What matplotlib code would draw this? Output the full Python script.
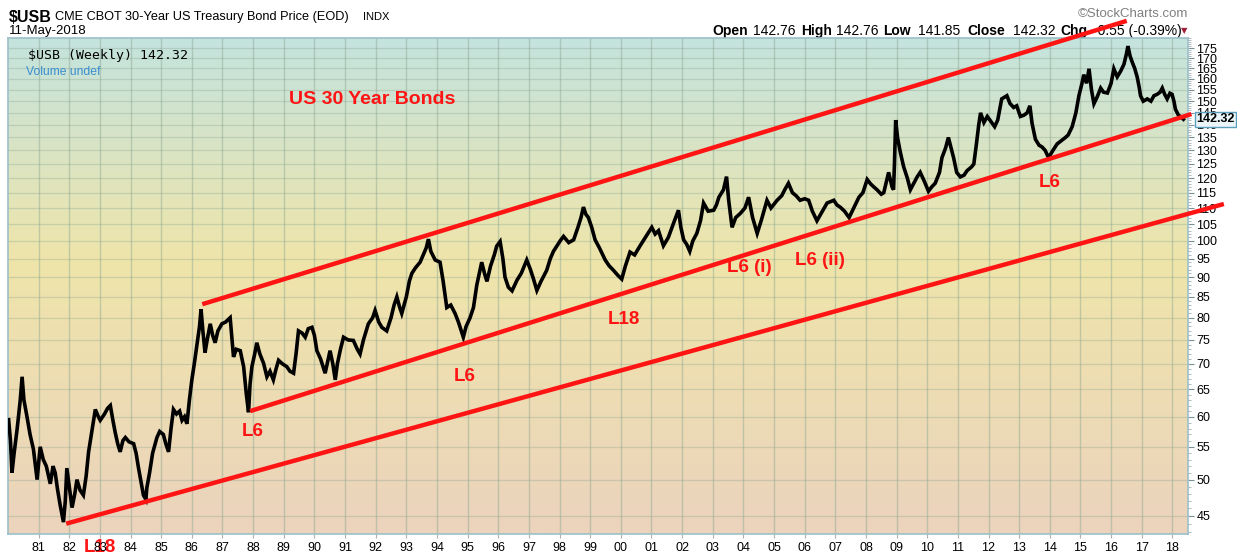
import numpy as np
import matplotlib
matplotlib.use('Agg')
import matplotlib.pyplot as plt
import matplotlib.transforms as mtransforms
from matplotlib.ticker import FixedLocator, NullFormatter

plt.rcParams['font.family'] = ['Liberation Sans', 'DejaVu Sans']

# Weekly $USB closes (decimal year, price)
week_dates = [
    1980.02, 1980.08, 1980.13, 1980.20, 1980.30, 1980.40, 1980.46, 1980.52, 1980.62, 1980.72,
    1980.83, 1980.95, 1981.05, 1981.15, 1981.25, 1981.38, 1981.47, 1981.54, 1981.62, 1981.70,
    1981.81, 1981.87, 1981.92, 1982.00, 1982.09, 1982.18, 1982.25, 1982.35, 1982.46, 1982.55,
    1982.63, 1982.72, 1982.85, 1982.95, 1983.01, 1983.15, 1983.25, 1983.34, 1983.42, 1983.50,
    1983.58, 1983.66, 1983.75, 1983.83, 1983.95, 1984.10, 1984.18, 1984.26, 1984.35, 1984.42,
    1984.50, 1984.53, 1984.62, 1984.72, 1984.86, 1984.95, 1985.07, 1985.15, 1985.24, 1985.32,
    1985.40, 1985.50, 1985.60, 1985.68, 1985.76, 1985.84, 1985.92, 1986.00, 1986.08, 1986.16,
    1986.25, 1986.30, 1986.36, 1986.43, 1986.50, 1986.60, 1986.68, 1986.76, 1986.85, 1986.98,
    1987.10, 1987.25, 1987.30, 1987.36, 1987.45, 1987.58, 1987.69, 1987.78, 1987.85, 1987.90,
    1987.96, 1988.05, 1988.12, 1988.22, 1988.34, 1988.45, 1988.55, 1988.66, 1988.75, 1988.83,
    1988.95, 1989.10, 1989.20, 1989.32, 1989.40, 1989.48, 1989.60, 1989.70, 1989.80, 1989.92,
    1990.00, 1990.08, 1990.20, 1990.35, 1990.45, 1990.51, 1990.60, 1990.68, 1990.75, 1990.85,
    1990.95, 1991.10, 1991.27, 1991.40, 1991.49, 1991.60, 1991.76, 1991.90, 1991.98, 1992.10,
    1992.20, 1992.36, 1992.50, 1992.60, 1992.69, 1992.78, 1992.85, 1993.00, 1993.10, 1993.18,
    1993.30, 1993.45, 1993.55, 1993.65, 1993.72, 1993.80, 1993.94, 1994.10, 1994.20, 1994.32,
    1994.45, 1994.59, 1994.70, 1994.86, 1994.95, 1995.08, 1995.19, 1995.30, 1995.46, 1995.55,
    1995.63, 1995.75, 1995.87, 1995.95, 1996.06, 1996.15, 1996.22, 1996.33, 1996.45, 1996.61,
    1996.75, 1996.93, 1997.05, 1997.15, 1997.26, 1997.40, 1997.58, 1997.70, 1997.80, 1997.91,
    1998.02, 1998.13, 1998.30, 1998.46, 1998.60, 1998.70, 1998.78, 1998.86, 1998.94, 1999.05,
    1999.16, 1999.30, 1999.49, 1999.62, 1999.76, 1999.90, 2000.03, 2000.15, 2000.30, 2000.45,
    2000.63, 2000.80, 2001.01, 2001.12, 2001.23, 2001.39, 2001.55, 2001.67, 2001.75, 2001.88,
    2001.96, 2002.05, 2002.15, 2002.25, 2002.35, 2002.48, 2002.60, 2002.70, 2002.85, 2003.03,
    2003.12, 2003.20, 2003.35, 2003.45, 2003.52, 2003.63, 2003.75, 2003.90, 2004.05, 2004.17,
    2004.30, 2004.45, 2004.58, 2004.77, 2004.90, 2005.10, 2005.25, 2005.35, 2005.47, 2005.60,
    2005.72, 2005.85, 2006.00, 2006.13, 2006.25, 2006.40, 2006.55, 2006.73, 2006.95, 2007.05,
    2007.17, 2007.30, 2007.45, 2007.55, 2007.65, 2007.77, 2007.90, 2008.04, 2008.15, 2008.25,
    2008.36, 2008.50, 2008.58, 2008.74, 2008.85, 2008.90, 2008.93, 2008.97, 2009.03, 2009.12,
    2009.23, 2009.35, 2009.45, 2009.55, 2009.67, 2009.77, 2009.90, 2010.04, 2010.15, 2010.26,
    2010.40, 2010.48, 2010.60, 2010.69, 2010.80, 2010.86, 2010.96, 2011.08, 2011.20, 2011.30,
    2011.45, 2011.52, 2011.60, 2011.68, 2011.74, 2011.85, 2011.96, 2012.10, 2012.20, 2012.30,
    2012.43, 2012.60, 2012.70, 2012.82, 2012.92, 2013.04, 2013.15, 2013.26, 2013.35, 2013.42,
    2013.53, 2013.65, 2013.75, 2013.85, 2013.96, 2014.10, 2014.24, 2014.40, 2014.51, 2014.60,
    2014.73, 2014.85, 2014.95, 2015.05, 2015.11, 2015.20, 2015.28, 2015.36, 2015.44, 2015.55,
    2015.66, 2015.75, 2015.88, 2016.00, 2016.09, 2016.20, 2016.31, 2016.42, 2016.50, 2016.55,
    2016.62, 2016.69, 2016.77, 2016.85, 2016.92, 2016.96, 2017.05, 2017.18, 2017.30, 2017.40,
    2017.50, 2017.60, 2017.67, 2017.75, 2017.83, 2017.92, 2017.99, 2018.05, 2018.10, 2018.20,
    2018.26, 2018.36,
]
close = [
    59.5, 56.0, 51.0, 54.0, 58.0, 63.0, 67.4, 63.0, 60.0, 57.0,
    54.6, 50.0, 55.0, 53.0, 52.0, 49.4, 52.0, 51.0, 48.5, 46.5,
    44.2, 47.0, 51.7, 49.0, 46.1, 48.0, 50.0, 48.5, 47.8, 50.5,
    54.2, 57.0, 61.3, 60.0, 59.4, 60.5, 61.5, 62.0, 59.5, 57.3,
    55.5, 54.2, 56.0, 56.5, 55.8, 55.5, 54.0, 51.7, 49.5, 47.8,
    47.2, 48.8, 51.0, 54.0, 56.5, 57.5, 57.0, 55.5, 54.2, 58.0,
    61.3, 60.5, 61.0, 59.4, 60.0, 58.8, 63.0, 66.8, 70.0, 73.6,
    78.0, 82.0, 77.0, 72.3, 75.0, 78.6, 76.0, 74.4, 77.0, 78.6,
    79.0, 80.0, 76.0, 71.4, 73.0, 72.7, 69.4, 64.0, 60.8, 66.0,
    69.4, 72.0, 74.4, 72.0, 70.1, 67.4, 68.5, 66.8, 69.0, 70.7,
    70.0, 69.4, 68.5, 68.1, 72.0, 77.0, 76.5, 75.6, 77.5, 77.8,
    76.0, 72.7, 71.0, 68.1, 71.0, 72.7, 70.0, 66.8, 70.0, 73.0,
    75.6, 75.0, 74.9, 73.0, 72.0, 75.0, 78.6, 80.0, 81.7, 79.0,
    77.8, 77.0, 80.0, 83.0, 85.0, 82.5, 81.0, 85.0, 89.0, 91.0,
    92.5, 94.0, 96.0, 98.0, 100.5, 97.0, 94.6, 94.0, 89.0, 82.4,
    83.0, 81.0, 79.0, 75.6, 78.0, 80.0, 82.4, 88.0, 94.0, 91.0,
    88.9, 93.0, 96.0, 98.5, 99.8, 95.0, 90.0, 87.4, 86.5, 89.2,
    91.0, 94.6, 92.0, 89.5, 86.6, 89.0, 91.8, 95.0, 97.0, 98.5,
    100.0, 101.3, 99.5, 100.3, 104.0, 107.0, 110.3, 108.0, 107.0, 104.0,
    100.3, 98.0, 94.6, 93.0, 91.8, 90.5, 89.5, 93.0, 96.8, 96.0,
    98.6, 101.0, 104.0, 102.0, 103.0, 98.6, 101.0, 104.0, 106.0, 109.3,
    104.0, 100.3, 99.0, 97.0, 100.0, 102.2, 106.0, 111.6, 109.0, 109.3,
    111.0, 113.5, 116.0, 120.5, 112.5, 104.0, 107.0, 108.3, 110.0, 113.5,
    107.0, 102.2, 106.0, 112.5, 110.0, 112.5, 114.0, 116.0, 118.2, 115.0,
    114.0, 112.5, 113.0, 112.5, 109.0, 106.0, 108.5, 111.6, 112.5, 111.0,
    110.2, 109.0, 107.0, 109.0, 111.0, 113.5, 115.0, 119.5, 118.0, 117.0,
    116.0, 114.5, 115.0, 122.0, 117.0, 116.0, 125.0, 142.0, 135.0, 129.4,
    124.0, 120.0, 116.0, 118.0, 120.4, 122.0, 119.0, 115.5, 117.0, 118.2,
    122.0, 127.3, 131.0, 135.0, 130.0, 127.3, 122.0, 120.4, 121.0, 122.6,
    124.0, 125.0, 132.0, 140.0, 145.0, 141.0, 143.5, 141.0, 139.3, 142.0,
    151.0, 152.4, 149.0, 147.3, 148.0, 143.5, 144.0, 145.0, 148.0, 140.7,
    134.3, 132.0, 131.3, 130.0, 127.3, 130.0, 132.5, 134.0, 135.0, 136.0,
    139.3, 145.0, 152.4, 158.0, 162.0, 158.0, 164.8, 155.0, 148.9, 152.0,
    155.8, 154.0, 153.6, 158.0, 164.8, 161.0, 163.6, 167.0, 172.0, 176.0,
    171.0, 168.0, 165.0, 161.0, 156.0, 152.4, 150.0, 151.0, 150.0, 152.4,
    153.0, 154.0, 155.8, 153.0, 151.0, 153.5, 153.0, 150.0, 146.5, 144.0,
    143.5, 142.32,
]

# hand-drawn trend channel (start, end) in (year, price)
upper_x = [1986.34, 2016.51]
upper_y = [83.2, 189.4]
middle_x = [1987.90, 2018.62]
middle_y = [61.0, 144.5]
lower_x = [1981.90, 2019.68]
lower_y = [44.0, 111.3]

year_ticks = list(range(1981, 2019))
year_labels = ['%02d' % (y % 100) for y in year_ticks]
price_ticks = list(range(45, 180, 5))

# wave labels (year, price, text)
wave_labels = [
    (1988.0, 57.5, 'L6'),
    (1994.9, 67.5, 'L6'),
    (2000.1, 79.5, 'L18'),
    (2004.2, 92.5, 'L6 (i)'),
    (2006.5, 94.5, 'L6 (ii)'),
    (2014.0, 118.5, 'L6'),
]

W, H = 1237, 554
fig = plt.figure(figsize=(W / 100, H / 100), dpi=100)
fig.patch.set_facecolor('white')
ax = fig.add_axes([8 / W, 20 / H, 1180 / W, 496 / H])
ax.set_zorder(5)

ax.set_yscale('log')
ax.set_xlim(1980.0, 2018.51)
ax.set_ylim(42.7, 180.2)

# background gradient: teal -> pale yellow -> peach
stops = [0.0, 0.55, 1.0]
cols = np.array([[235, 211, 189], [239, 229, 170], [196, 227, 222]]) / 255.0
t = np.linspace(0, 1, 256)
grad = np.stack([np.interp(t, stops, cols[:, i]) for i in range(3)], axis=-1)
grad = np.repeat(grad[:, None, :], 2, axis=1)
ax.imshow(grad, extent=[0, 1, 0, 1], origin='lower', aspect='auto',
          transform=ax.transAxes, zorder=0, interpolation='bilinear')

# grid
for y in price_ticks:
    ax.axhline(y, color='#8aa590', alpha=0.35, lw=0.9, zorder=1)
for x in year_ticks:
    ax.axvline(x, color='#8aa590', alpha=0.45, lw=1.0, zorder=1)

# price
ax.plot(week_dates, close, color='black', lw=2.6, zorder=3, solid_joinstyle='miter')

# channel lines
red = '#ff1414'
for xs, ys in [(upper_x, upper_y), (middle_x, middle_y), (lower_x, lower_y)]:
    ax.plot(xs, ys, color=red, lw=3.2, zorder=4, clip_on=False, solid_capstyle='butt')

for x, y, s in wave_labels:
    ax.text(x, y, s, color=red, fontsize=13.5, fontweight='bold', ha='center', va='center', zorder=6)

ax.text(0.238, 0.877, 'US 30 Year Bonds', transform=ax.transAxes, color=red,
        fontsize=14, fontweight='bold', ha='left', va='center', zorder=6)

# axes
ax.yaxis.tick_right()
ax.yaxis.set_major_locator(FixedLocator(price_ticks))
ax.set_yticklabels([str(p) for p in price_ticks])
ax.yaxis.set_minor_locator(FixedLocator(list(range(43, 181))))
ax.yaxis.set_minor_formatter(NullFormatter())
ax.tick_params(axis='y', which='major', labelsize=9, length=4, color='#7a8f96', pad=2)
ax.tick_params(axis='y', which='minor', length=2, color='#9fb0b5')
ax.set_xticks(year_ticks)
ax.set_xticklabels(year_labels)
ax.tick_params(axis='x', labelsize=9, length=3, color='#b0b0b0', pad=3)
for sp in ax.spines.values():
    sp.set_color('#9cc0c8')
    sp.set_linewidth(1.2)

# last price box on the right axis
trans = mtransforms.blended_transform_factory(ax.transAxes, ax.transData)
ax.text(1.007, 142.32, '142.32', transform=trans, fontsize=9, fontweight='bold',
        ha='left', va='center', clip_on=False, zorder=7,
        bbox=dict(boxstyle='square,pad=0.1', fc='#eaf6fa', ec='#5c9fbd', lw=1))

# chart labels inside the panel
ax.text(0.017, 0.978, '$USB (Weekly) 142.32', transform=ax.transAxes, fontsize=9.5,
        family='DejaVu Sans Mono', ha='left', va='top', zorder=6)
ax.text(0.015, 0.943, 'Volume undef', transform=ax.transAxes, fontsize=8.7,
        color='#3a8fd0', ha='left', va='top', zorder=6)


def px(x, y):
    return x / W, 1 - y / H


fig.text(*px(9, 17), '$USB', fontsize=11.5, fontweight='bold', va='center', ha='left')
fig.text(*px(55, 17), 'CME CBOT 30-Year US Treasury Bond Price (EOD)', fontsize=9.2,
         va='center', ha='left')
fig.text(*px(363, 17), 'INDX', fontsize=8, va='center', ha='left')
fig.text(*px(9, 31), '11-May-2018', fontsize=9.5, va='center', ha='left')
fig.text(*px(1188, 14), '\u00a9StockCharts.com', fontsize=9.5, color='#808080', va='center', ha='right')

hdr = [(712, 'Open', True), (753, '142.76', False), (801, 'High', True), (836, '142.76', False),
       (883, 'Low', True), (918, '141.85', False), (967, 'Close', True), (1013, '142.32', False),
       (1060, 'Chg', True), (1093, '-0.55 (-0.39%)', False)]
for x, s, b in hdr:
    fig.text(*px(x, 31), s, fontsize=10, fontweight='bold' if b else 'normal',
             va='center', ha='left')
fig.text(*px(1184, 31), '\u25bc', fontsize=6, color='#a0203a', va='center', ha='center',
         family='DejaVu Sans')

fig.text(*px(100, 547), 'L18', color=red, fontsize=13.5, fontweight='bold', va='center', ha='center')

fig.savefig('out.png', dpi=100)
